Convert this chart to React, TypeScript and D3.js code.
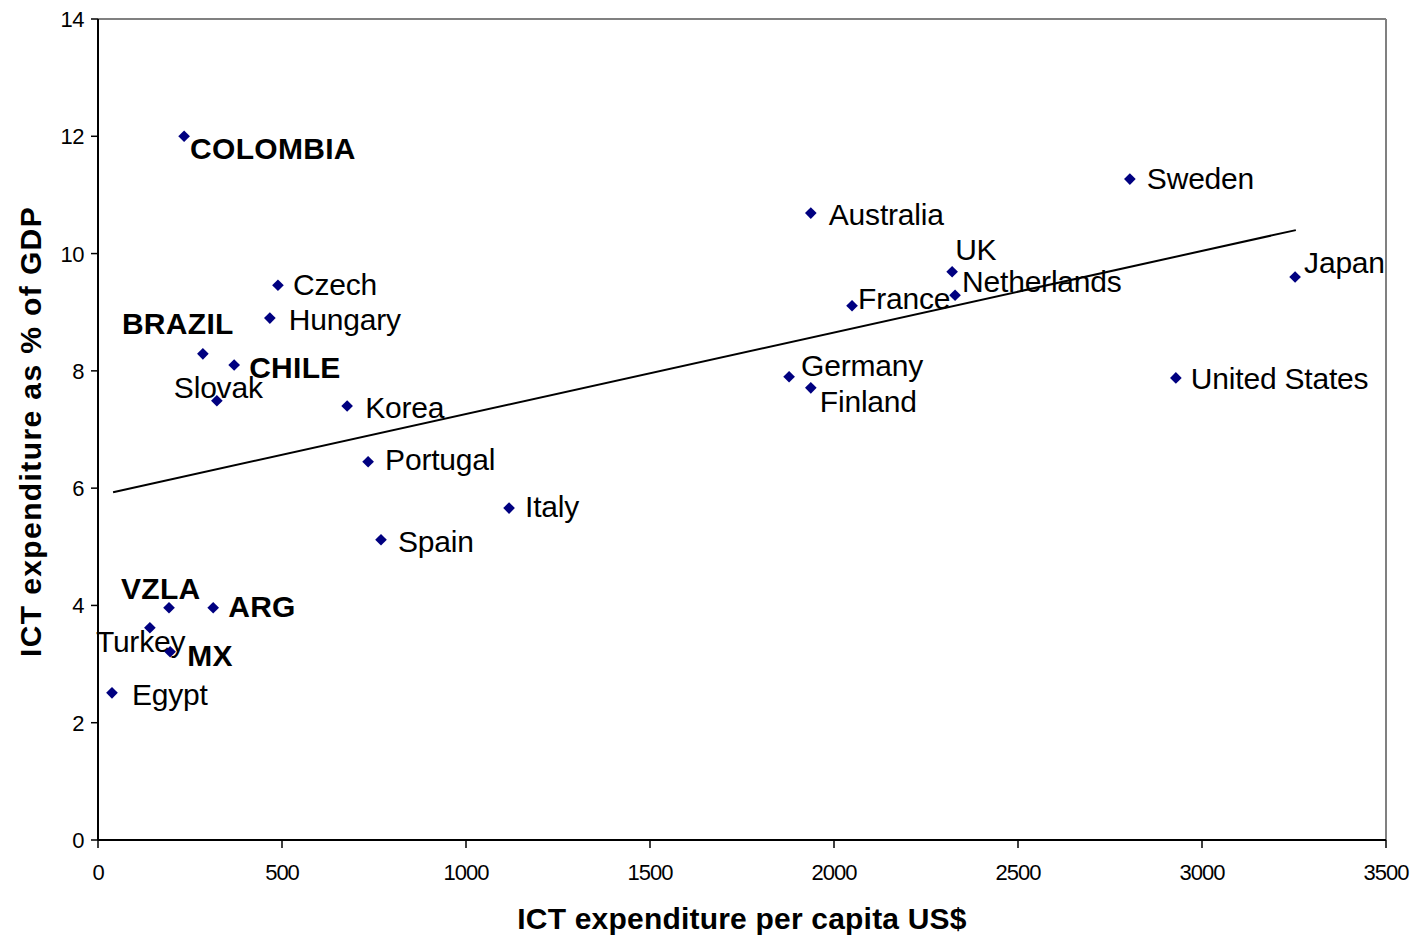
import React from 'react';
import * as d3 from 'd3';

// values
const countries = [
  'COLOMBIA', 'Sweden', 'Australia', 'UK', 'Netherlands', 'France', 'Japan',
  'Czech', 'Hungary', 'BRAZIL', 'CHILE', 'Slovak', 'Korea', 'Germany', 'Finland',
  'United States', 'Portugal', 'Italy', 'Spain', 'VZLA', 'ARG', 'Turkey', 'MX', 'Egypt',
];
const spendPerCapita = [
  234, 2804, 1937, 2321, 2329, 2049, 3253,
  489, 467, 285, 370, 323, 677, 1878, 1937,
  2929, 734, 1117, 769, 193, 313, 141, 196, 38,
];
const ictShareGdp = [
  12.0, 11.27, 10.69, 9.69, 9.29, 9.11, 9.6,
  9.46, 8.9, 8.29, 8.1, 7.49, 7.4, 7.9, 7.71,
  7.88, 6.45, 5.66, 5.12, 3.96, 3.96, 3.62, 3.21, 2.51,
];
const latinAmerica = ['COLOMBIA', 'BRAZIL', 'CHILE', 'VZLA', 'ARG', 'MX'];

// linear trend line ends
const trendX = [41, 3255];
const trendY = [5.93, 10.4];

const xTicks = [0, 500, 1000, 1500, 2000, 2500, 3000, 3500];
const yTicks = [0, 2, 4, 6, 8, 10, 12, 14];

// label placement (px from the marker: left edge of text, baseline)
const labelOffset: Record<string, [number, number]> = {
  COLOMBIA: [6, 23], Sweden: [17, 10], Australia: [18, 12], UK: [3, -12],
  Netherlands: [7, -3], France: [6, 3], Japan: [9, -4], Czech: [15, 10],
  Hungary: [19, 12], BRAZIL: [-81, -20], CHILE: [15, 13], Slovak: [-43, -3],
  Korea: [18, 12], Germany: [12, -1], Finland: [9, 24], 'United States': [15, 11],
  Portugal: [17, 8], Italy: [16, 9], Spain: [17, 12], VZLA: [-48, -9],
  ARG: [15, 9], Turkey: [-54, 24], MX: [17, 14], Egypt: [20, 12],
};

const W = 1417;
const H = 944;
const left = 98, right = 1386, top = 19, bottom = 840;
const font = 'Arial, "Liberation Sans", sans-serif';

export default function App() {
  const x = d3.scaleLinear().domain([0, 3500]).range([left, right]);
  const y = d3.scaleLinear().domain([0, 14]).range([bottom, top]);
  const diamond = d3.symbol().type(d3.symbolSquare).size(68)();
  const trend = d3.line<number>().x((d) => x(d)).y((_, i) => y(trendY[i]))(trendX);

  return (
    <div style={{ position: 'absolute', left: 0, top: 0 }}>
      <svg width={W} height={H} style={{ display: 'block', background: '#fff' }} fontFamily={font}>
        {/* frame */}
        <line x1={left} x2={right} y1={top} y2={top} stroke="#808080" strokeWidth={2} />
        <line x1={right} x2={right} y1={top} y2={bottom} stroke="#808080" strokeWidth={2} />
        <line x1={left} x2={left} y1={top} y2={bottom} stroke="#000" strokeWidth={2} />
        <line x1={left} x2={right} y1={bottom} y2={bottom} stroke="#000" strokeWidth={2} />

        {yTicks.map((t) => (
          <g key={'y' + t}>
            <line x1={left - 7} x2={left} y1={y(t)} y2={y(t)} stroke="#000" strokeWidth={1.5} />
            <text x={left - 14} y={y(t) + 8} textAnchor="end" fontSize={22} letterSpacing={-0.5}>{t}</text>
          </g>
        ))}
        {xTicks.map((t) => (
          <g key={'x' + t}>
            <line x1={x(t)} x2={x(t)} y1={bottom} y2={bottom + 8} stroke="#000" strokeWidth={1.5} />
            <text x={x(t)} y={bottom + 40} textAnchor="middle" fontSize={22} letterSpacing={-1}>{t}</text>
          </g>
        ))}

        <path d={trend || ''} fill="none" stroke="#000" strokeWidth={2} />

        {countries.map((c, i) => {
          const px = x(spendPerCapita[i]);
          const py = y(ictShareGdp[i]);
          const [dx, dy] = labelOffset[c];
          const bold = latinAmerica.includes(c);
          return (
            <g key={c}>
              <path d={diamond || ''} transform={`translate(${px},${py}) rotate(45)`} fill="#000080" />
              <text
                x={px + dx}
                y={py + dy}
                fontSize={30}
                fontWeight={bold ? 'bold' : 'normal'}
                letterSpacing={bold ? 0.3 : -0.2}
              >
                {c}
              </text>
            </g>
          );
        })}

        <text x={(left + right) / 2} y={929} textAnchor="middle" fontSize={30} fontWeight="bold" letterSpacing={0.2}>
          ICT expenditure per capita US$
        </text>
        <text
          transform={`translate(41,${(top + bottom) / 2 + 2}) rotate(-90)`}
          textAnchor="middle"
          fontSize={30}
          fontWeight="bold"
          letterSpacing={1.4}
        >
          ICT expenditure as % of GDP
        </text>
      </svg>
    </div>
  );
}
